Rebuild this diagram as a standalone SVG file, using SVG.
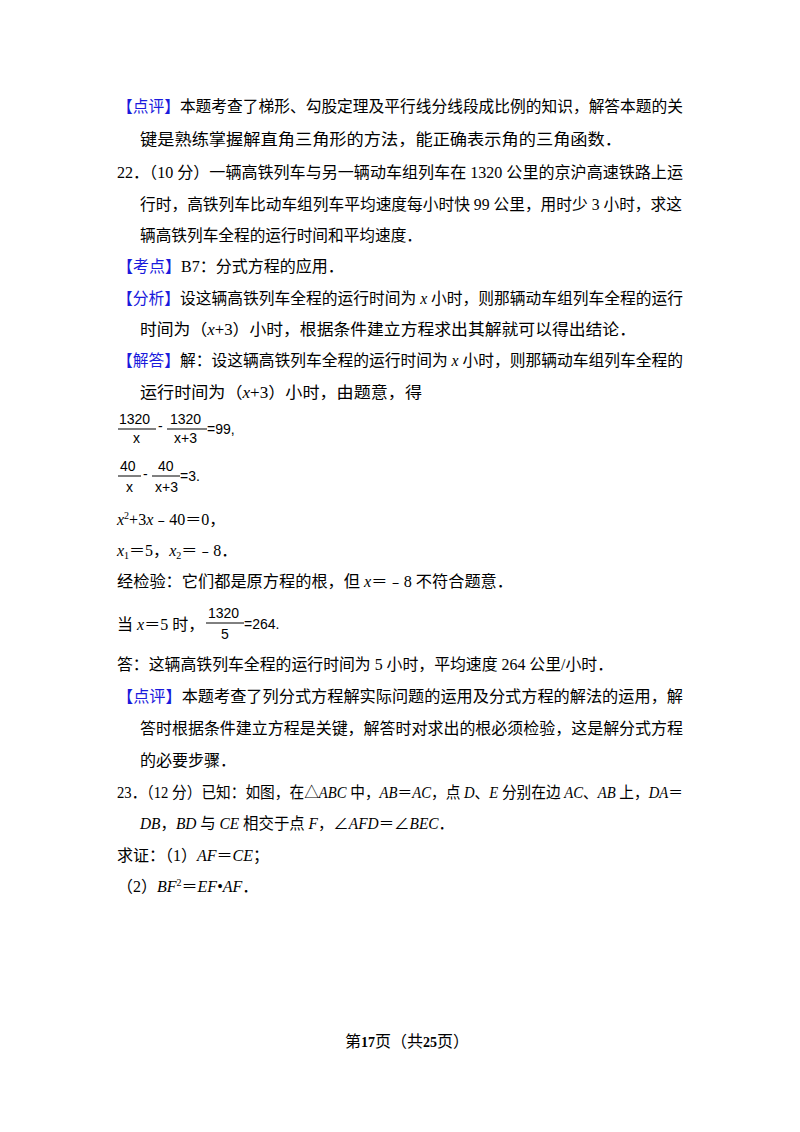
<svg xmlns="http://www.w3.org/2000/svg" width="800" height="1132" viewBox="0 0 800 1132">
<style>
text{font-family:"Liberation Serif","Noto Sans CJK SC",serif;font-size:16px;fill:#000}
.b{fill:#1a1adc}
.i{font-style:italic}
.m text{font-family:"Liberation Sans","Noto Sans CJK SC",sans-serif;font-size:14px}
</style>
<rect width="800" height="1132" fill="#fff"/>
<g id="text">
<text x="117" y="112" textLength="566" lengthAdjust="spacingAndGlyphs"><tspan class="b">【点评】</tspan>本题考查了梯形、勾股定理及平行线分线段成比例的知识，解答本题的关</text>
<text x="140" y="145" textLength="482" lengthAdjust="spacingAndGlyphs">键是熟练掌握解直角三角形的方法，能正确表示角的三角函数．</text>
<text x="117" y="178" textLength="566" lengthAdjust="spacingAndGlyphs">22．（10 分）一辆高铁列车与另一辆动车组列车在 1320 公里的京沪高速铁路上运</text>
<text x="140" y="210" textLength="542" lengthAdjust="spacingAndGlyphs">行时，高铁列车比动车组列车平均速度每小时快 99 公里，用时少 3 小时，求这</text>
<text x="140" y="241" textLength="282" lengthAdjust="spacingAndGlyphs">辆高铁列车全程的运行时间和平均速度．</text>
<text x="117" y="272"><tspan class="b">【考点】</tspan>B7：分式方程的应用．</text>
<text x="117" y="304" textLength="566" lengthAdjust="spacingAndGlyphs"><tspan class="b">【分析】</tspan>设这辆高铁列车全程的运行时间为 <tspan class="i">x</tspan> 小时，则那辆动车组列车全程的运行</text>
<text x="140" y="335" textLength="496" lengthAdjust="spacingAndGlyphs">时间为（<tspan class="i">x</tspan>+3）小时，根据条件建立方程求出其解就可以得出结论．</text>
<text x="117" y="366" textLength="566" lengthAdjust="spacingAndGlyphs"><tspan class="b">【解答】</tspan>解：设这辆高铁列车全程的运行时间为 <tspan class="i">x</tspan> 小时，则那辆动车组列车全程的</text>
<text x="140" y="398" textLength="282" lengthAdjust="spacingAndGlyphs">运行时间为（<tspan class="i">x</tspan>+3）小时，由题意，得</text>
<g class="m">
<text x="119" y="424">1320</text><line x1="118" y1="429" x2="156" y2="429" stroke="#000"/><text x="133" y="443">x</text>
<text x="158" y="431">-</text>
<text x="170" y="424">1320</text><line x1="167" y1="429" x2="207" y2="429" stroke="#000"/><text x="174" y="443">x+3</text>
<text x="207" y="434">=99,</text>
<text x="120" y="471">40</text><line x1="118" y1="476" x2="141" y2="476" stroke="#000"/><text x="126" y="492">x</text>
<text x="143" y="479">-</text>
<text x="158" y="471">40</text><line x1="152" y1="476" x2="180" y2="476" stroke="#000"/><text x="155" y="492">x+3</text>
<text x="180" y="481">=3.</text>
</g>
<text x="117" y="525"><tspan class="i">x</tspan><tspan font-size="10" dy="-6">2</tspan><tspan dy="6">+3</tspan><tspan class="i">x</tspan>﹣40＝0，</text>
<text x="117" y="556"><tspan class="i">x</tspan><tspan font-size="10" dy="3">1</tspan><tspan dy="-3">＝5，</tspan><tspan class="i">x</tspan><tspan font-size="10" dy="3">2</tspan><tspan dy="-3">＝﹣8．</tspan></text>
<text x="117" y="587" textLength="396" lengthAdjust="spacingAndGlyphs">经检验：它们都是原方程的根，但 <tspan class="i">x</tspan>＝﹣8 不符合题意．</text>
<text x="117" y="630">当 <tspan class="i">x</tspan>＝5 时，</text>
<g class="m"><text x="208" y="618">1320</text><line x1="206" y1="623" x2="244" y2="623" stroke="#000"/><text x="221" y="639">5</text><text x="244" y="629">=264.</text></g>
<text x="117" y="670" textLength="496" lengthAdjust="spacingAndGlyphs">答：这辆高铁列车全程的运行时间为 5 小时，平均速度 264 公里/小时．</text>
<text x="117" y="702" textLength="566" lengthAdjust="spacingAndGlyphs"><tspan class="b">【点评】</tspan>本题考查了列分式方程解实际问题的运用及分式方程的解法的运用，解</text>
<text x="140" y="734" textLength="543" lengthAdjust="spacingAndGlyphs">答时根据条件建立方程是关键，解答时对求出的根必须检验，这是解分式方程</text>
<text x="140" y="766">的必要步骤．</text>
<text x="117" y="798" textLength="566" lengthAdjust="spacingAndGlyphs">23．（12 分）已知：如图，在△<tspan class="i">ABC</tspan> 中，<tspan class="i">AB</tspan>＝<tspan class="i">AC</tspan>，点 <tspan class="i">D</tspan>、<tspan class="i">E</tspan> 分别在边 <tspan class="i">AC</tspan>、<tspan class="i">AB</tspan> 上，<tspan class="i">DA</tspan>＝</text>
<text x="140" y="829" textLength="314" lengthAdjust="spacingAndGlyphs"><tspan class="i">DB</tspan>，<tspan class="i">BD</tspan> 与 <tspan class="i">CE</tspan> 相交于点 <tspan class="i">F</tspan>，∠<tspan class="i">AFD</tspan>＝∠<tspan class="i">BEC</tspan>．</text>
<text x="117" y="861">求证：（1）<tspan class="i">AF</tspan>＝<tspan class="i">CE</tspan>；</text>
<text x="117" y="892">（2）<tspan class="i">BF</tspan><tspan font-size="10" dy="-6">2</tspan><tspan dy="6">＝</tspan><tspan class="i">EF</tspan>•<tspan class="i">AF</tspan>．</text>
<text x="345" y="1047" font-size="12">第<tspan font-weight="bold" font-size="14">17</tspan>页（共<tspan font-weight="bold" font-size="14">25</tspan>页）</text>
</g>
</svg>
